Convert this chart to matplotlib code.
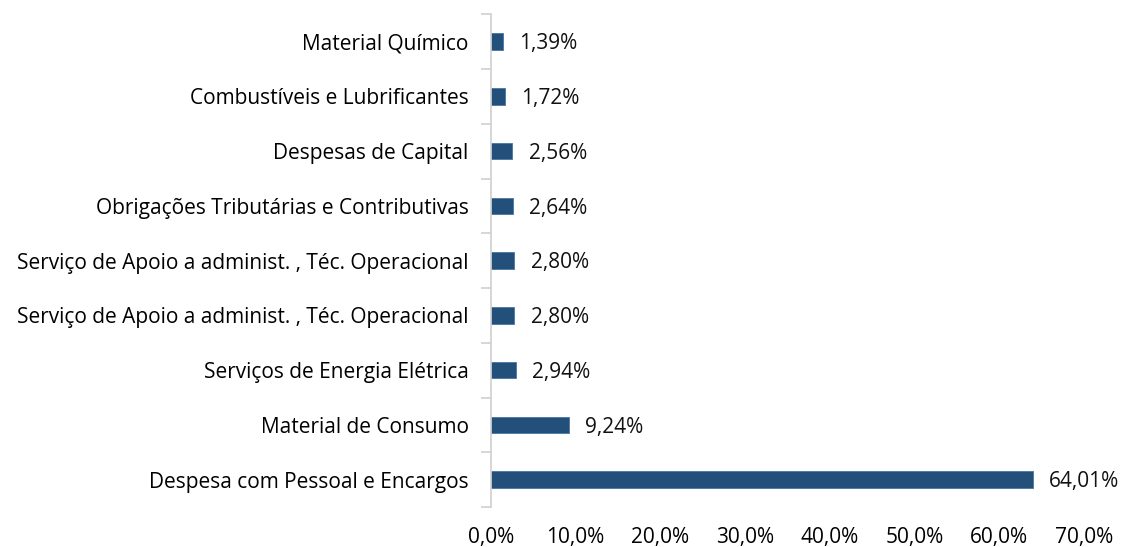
import matplotlib.pyplot as plt
import numpy as np

categories = [
    "Despesa com Pessoal e Encargos",
    "Material de Consumo",
    "Serviços de Energia Elétrica",
    "Serviço de Apoio a administ. , Téc. Operacional",
    "Serviço de Apoio a administ. , Téc. Operacional",
    "Obrigações Tributárias e Contributivas",
    "Despesas de Capital",
    "Combustíveis e Lubrificantes",
    "Material Químico",
]
values = [64.01, 9.24, 2.94, 2.80, 2.80, 2.64, 2.56, 1.72, 1.39]
xticks = [0, 10, 20, 30, 40, 50, 60, 70]

plt.rcParams['font.family'] = ['Open Sans', 'DejaVu Sans']
fs = 15

fig = plt.figure(figsize=(11.23, 5.47), dpi=100)
ax = fig.add_axes([0.437, 0.073, 0.528, 0.901])

y = np.arange(len(categories))
ax.barh(y, values, height=0.3, color='#23507B', edgecolor='#4A74A0', linewidth=0.6)

for yi, v in zip(y, values):
    ax.text(v + 1.9, yi - 0.04, f"{v:.2f}%".replace('.', ','), va='center', ha='left', fontsize=fs, color='#111111')

ax.set_xlim(0, 70)
ax.set_ylim(-0.5, len(categories) - 0.5)
ax.set_xticks(xticks)
ax.set_xticklabels([f"{t:.1f}%".replace('.', ',') for t in xticks], fontsize=fs)
ax.set_yticks(y)
ax.set_yticklabels(categories, fontsize=fs)
ax.set_yticks(np.arange(-0.5, len(categories), 1), minor=True)

ax.tick_params(axis='y', which='major', length=0, pad=16)
ax.tick_params(axis='y', which='minor', length=7, color='#D0D0D0', width=1.2)
ax.tick_params(axis='x', length=0, pad=14)

for s in ['top', 'right', 'bottom']:
    ax.spines[s].set_visible(False)
ax.spines['left'].set_color('#D0D0D0')
ax.spines['left'].set_linewidth(1.2)

fig.savefig('out.png', dpi=100)
